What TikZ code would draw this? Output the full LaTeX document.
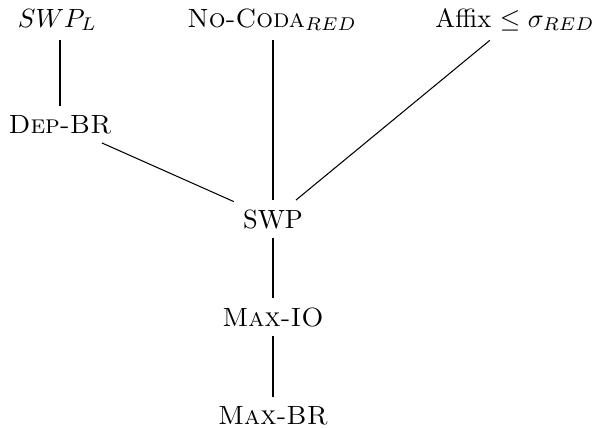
\documentclass[tikz,border=0pt]{standalone}
\begin{document}
\begin{tikzpicture}[x=0.379pt,y=-0.379pt,
  lbl/.style={anchor=base,inner sep=3.33pt},
  vline/.style={line width=0.9pt},
  dline/.style={line width=0.4pt}]
\useasboundingbox (0,0) rectangle (595,427);
\node[lbl] (swpl)   at (57.5,27) {$SWP_L$};
\node[lbl] (nocoda) at (272,27) {\textsc{No-Coda}$_{RED}$};
\node[lbl] (affix)  at (515,27) {Affix $\leq \sigma_{RED}$};
\node[lbl] (depbr)  at (60,133) {\textsc{Dep-BR}};
\node[lbl] (swp)    at (273,228) {SWP};
\node[lbl] (maxio)  at (273,326) {\textsc{Max-IO}};
\node[lbl] (maxbr)  at (273,424) {\textsc{Max-BR}};
\draw[vline] (depbr.north) -- (depbr.north |- swpl.south);
\draw[vline] (swp.north) -- (swp.north |- nocoda.south);
\draw[dline] (depbr) -- (swp);
\draw[dline] (affix) -- (swp);
\draw[vline] (swp) -- (maxio);
\draw[vline] (maxio) -- (maxbr);
\end{tikzpicture}
\end{document}
